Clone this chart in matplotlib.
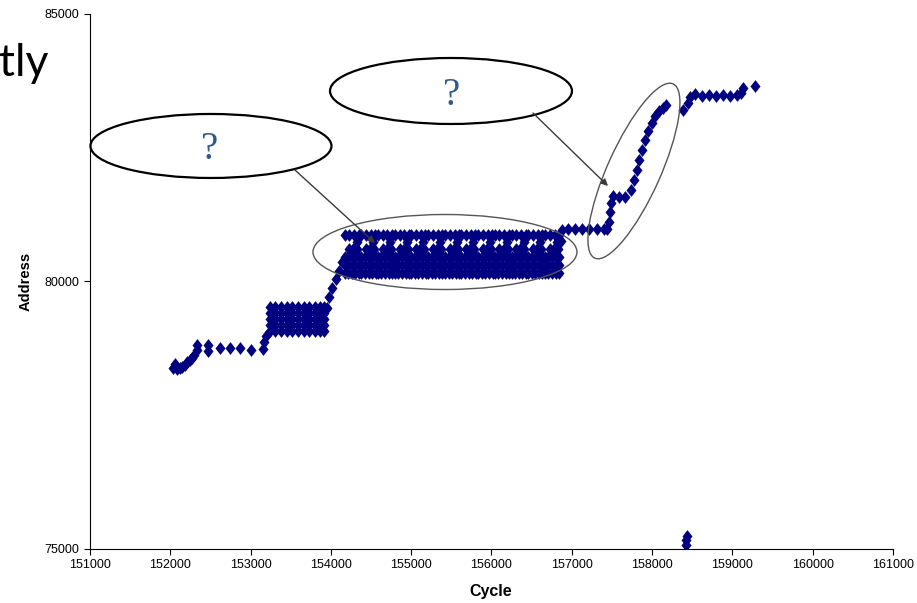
import matplotlib

matplotlib.use("Agg")
import matplotlib.pyplot as plt
import numpy as np
from matplotlib.patches import Ellipse
from matplotlib.transforms import ScaledTranslation

# --- data ----------------------------------------------------------------
# early accesses, climbing slowly
CYC_START = [152040, 152060, 152090, 152120, 152150, 152180, 152210, 152240,
             152270, 152300, 152330, 152330, 152470, 152470, 152620, 152740,
             152870, 153010, 153150, 153170, 153190]
ADR_START = [78380, 78450, 78370, 78380, 78400, 78430, 78490, 78520,
             78570, 78620, 78720, 78800, 78690, 78810, 78750, 78750,
             78750, 78710, 78740, 78860, 78980]

# dense block around 153500
BLOCK_CYC = [153240, 153310, 153380, 153450, 153520, 153590, 153660,
             153730, 153800, 153870, 153910]
BLOCK_ADR = [79080, 79190, 79300, 79410, 79520]

# climb into the repeating band
CYC_RISE1 = [153950, 153980, 154020, 154060, 154100, 154140]
ADR_RISE1 = [79500, 79700, 79880, 80050, 80200, 80350]

# repeating loop band (one unit per iteration)
LOOP_START = [154170, 154380, 154585, 154795, 155000, 155210, 155420,
              155625, 155835, 156040, 156250, 156455, 156665]
LOOP_DCYC = [0, 60, 120, 175,
             0, 45, 90, 135, 180,
             0, 45, 90, 135, 180,
             0, 45, 90, 135, 180,
             60, 110, 160, 150]
LOOP_ADR = [80860, 80860, 80860, 80860,
            80150, 80150, 80150, 80150, 80150,
            80300, 80300, 80300, 80300, 80300,
            80450, 80450, 80450, 80450, 80450,
            80600, 80600, 80600, 80730]

# short plateau after the band
CYC_FLAT = [156870, 156880, 156950, 157040, 157130, 157220, 157310, 157400, 157440]
ADR_FLAT = [80750, 80950, 80976, 80976, 80976, 80976, 80976, 80976, 80976]

# steep climb (right ellipse)
CYC_RISE2 = [157463, 157475, 157488, 157513, 157588, 157662, 157737, 157774,
             157811, 157836, 157874, 157911, 157949, 157998, 158036, 158086,
             158135, 158172]
ADR_RISE2 = [81106, 81293, 81461, 81592, 81573, 81573, 81704, 81891,
             82077, 82264, 82451, 82638, 82806, 82955, 83086, 83179,
             83235, 83291]

# last plateau
CYC_TAIL = [158385, 158447, 158472, 158534, 158621, 158709, 158796, 158883,
            158970, 159057, 159107, 159132, 159281]
ADR_TAIL = [83198, 83329, 83441, 83500, 83460, 83470, 83460, 83470,
            83460, 83470, 83516, 83609, 83646]

# stray accesses near the bottom
CYC_STRAY = [158420, 158425, 158430]
ADR_STRAY = [75080, 75170, 75250]

X_TICKS = [151000, 152000, 153000, 154000, 155000, 156000,
           157000, 158000, 159000, 160000, 161000]
Y_TICKS = [75000, 80000, 85000]

NAVY = "#000080"
DIAMOND = [(0, 1), (0.78, 0), (0, -1), (-0.78, 0), (0, 1)]


def collect():
    bx, by = np.meshgrid(BLOCK_CYC, BLOCK_ADR)
    lx = (np.array(LOOP_START)[:, None] + np.array(LOOP_DCYC)[None, :]).ravel()
    ly = np.tile(LOOP_ADR, len(LOOP_START))
    xs = np.concatenate([CYC_START, bx.ravel(), CYC_RISE1, lx, CYC_FLAT,
                         CYC_RISE2, CYC_TAIL, CYC_STRAY])
    ys = np.concatenate([ADR_START, by.ravel(), ADR_RISE1, ly, ADR_FLAT,
                         ADR_RISE2, ADR_TAIL, ADR_STRAY])
    return xs, ys


def ellipse(fig, ax, cx, cy, w_px, h_px, angle, color, lw):
    trans = fig.dpi_scale_trans + ScaledTranslation(cx, cy, ax.transData)
    ax.add_patch(Ellipse((0, 0), w_px / 100, h_px / 100, angle=angle,
                         transform=trans, fill=False, edgecolor=color,
                         linewidth=lw, clip_on=False, zorder=5))


fig = plt.figure(figsize=(9.17, 6.03), dpi=100)
ax = fig.add_axes([0.0981, 0.0896, 0.8757, 0.888])

xs, ys = collect()
ax.scatter(xs, ys, s=85, marker=DIAMOND, color=NAVY, linewidths=0, zorder=3)

ax.set_xlim(151000, 161000)
ax.set_ylim(75000, 85000)
ax.set_xticks(X_TICKS)
ax.set_yticks(Y_TICKS)
ax.ticklabel_format(useOffset=False, style="plain")
for side in ("top", "right"):
    ax.spines[side].set_visible(False)
for side in ("left", "bottom"):
    ax.spines[side].set_linewidth(0.8)
ax.tick_params(length=4.5, width=0.8, labelsize=9, pad=3)
for lab in ax.get_xticklabels() + ax.get_yticklabels():
    lab.set_fontfamily("Liberation Sans")

ax.set_xlabel("Cycle", fontsize=11.5, fontweight="bold", family="Liberation Sans")
ax.set_ylabel("Address", fontsize=10.5, fontweight="bold", family="Liberation Sans")
ax.xaxis.set_label_coords(0.499, -0.066)
ax.yaxis.set_label_coords(-0.071, 0.5)

# callouts
ellipse(fig, ax, 152507, 82526, 241, 64, 0, "black", 1.6)
ellipse(fig, ax, 155496, 83553, 242, 66, 0, "black", 1.6)
ellipse(fig, ax, 155421, 80546, 264, 75, 0, "#555555", 1.0)
ellipse(fig, ax, 157774, 82059, 191, 53, 65.8, "#555555", 1.0)

arrow = dict(arrowstyle="-|>", color="#3a3a3a", lw=1.0, mutation_scale=10,
             shrinkA=0, shrinkB=0)
ax.annotate("", xy=(154549, 80714), xytext=(153553, 82077),
            arrowprops=arrow, zorder=6, annotation_clip=False)
ax.annotate("", xy=(157451, 81779), xytext=(156517, 83142),
            arrowprops=arrow, zorder=6, annotation_clip=False)

qstyle = dict(fontsize=28, color="#2F5A8C", family="Liberation Serif",
              ha="center", va="center", zorder=6, clip_on=False)
ax.text(152494, 82451, "?", **qstyle)
ax.text(155508, 83478, "?", **qstyle)

# leftover slide text cut at the left edge
fig.text(48 / 917, 1 - 76 / 603, "tly", fontsize=32, family="Lato",
         ha="right", va="baseline")

fig.savefig("out.png", dpi=100)
